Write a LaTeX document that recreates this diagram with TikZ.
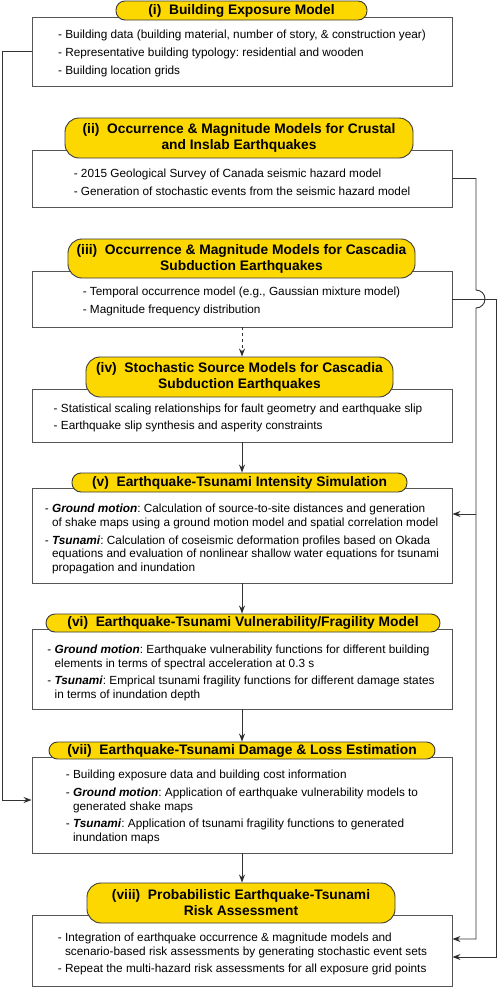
\documentclass[tikz,border=0pt]{standalone}
\usepackage{fontspec}
\setmainfont{Liberation Sans}
\usetikzlibrary{arrows.meta,calc}
\definecolor{pillY}{HTML}{FDD800}
\definecolor{pillline}{HTML}{3A3A3A}
\definecolor{boxgray}{HTML}{555555}
\definecolor{linegray}{HTML}{333333}
\begin{document}
\frenchspacing
\begin{tikzpicture}[x=1pt,y=-1pt,
 boxst/.style={draw=boxgray, line width=0.9pt, fill=white, rectangle, inner sep=0, minimum width=420pt},
 pill/.style={draw=pillline, line width=0.9pt, fill=pillY, inner sep=0, align=center, font=\fontsize{13.8}{16}\selectfont\bfseries},
 body/.style={align=left, inner sep=0, font=\fontsize{11.8}{13.6}\selectfont},
 conn/.style={draw=linegray, line width=0.9pt},
 arr/.style={conn, -{Stealth[length=8pt,width=6pt,fill=black]}}]
\useasboundingbox (0,0) rectangle (498,988);
\fill[white] (0,0) rectangle (498,988);
% boxes
\node[boxst, minimum height=69pt] (b1) at (242,51.5) {};
\node[boxst, minimum height=57pt] (b2) at (242,178.5) {};
\node[boxst, minimum height=56pt] (b3) at (242,299) {};
\node[boxst, minimum height=53pt] (b4) at (242,415.5) {};
\node[boxst, minimum height=95pt] (b5) at (242,535.5) {};
\node[boxst, minimum height=80pt] (b6) at (242,669) {};
\node[boxst, minimum height=96pt] (b7) at (242,805) {};
\node[boxst, minimum height=71pt] (b8) at (242,950.5) {};
% pills
\node[pill, minimum width=251pt, minimum height=19pt, rounded corners=9pt] (p1) at (241.5,10.5) {(i)\ \ Building Exposure Model};
\node[pill, minimum width=348pt, minimum height=40pt, rounded corners=14pt] (p2) at (239,138) {(ii)\ \ Occurrence \& Magnitude Models for Crustal\\and Inslab Earthquakes};
\node[pill, minimum width=347pt, minimum height=39pt, rounded corners=14pt] (p3) at (241.5,258.5) {(iii)\ \ Occurrence \& Magnitude Models for Cascadia\\Subduction Earthquakes};
\node[pill, minimum width=307pt, minimum height=40pt, rounded corners=14pt] (p4) at (239.5,377) {(iv)\ \ Stochastic Source Models for Cascadia\\Subduction Earthquakes};
\node[pill, minimum width=335pt, minimum height=19pt, rounded corners=9pt] (p5) at (239.5,482.5) {(v)\ \ Earthquake-Tsunami Intensity Simulation};
\node[pill, minimum width=394pt, minimum height=18pt, rounded corners=9pt] (p6) at (243,623) {(vi)\ \ Earthquake-Tsunami Vulnerability/Fragility Model};
\node[pill, minimum width=386pt, minimum height=17pt, rounded corners=8.5pt] (p7) at (242,750.5) {(vii)\ \ Earthquake-Tsunami Damage \& Loss Estimation};
\node[pill, minimum width=308pt, minimum height=40pt, rounded corners=14pt] (p8) at (241,903) {(viii)\ \ Probabilistic Earthquake-Tsunami\\Risk Assessment};
% texts
\node[body] (t1) at (242,53.5) {- Building data (building material, number of story, \& construction year)\\[4pt]- Representative building typology: residential and wooden\\[4pt]- Building location grids};
\node[body] (t2) at (242,182.5) {- 2015 Geological Survey of Canada seismic hazard model\\[4pt]- Generation of stochastic events from the seismic hazard model};
\node[body] (t3) at (241.5,301.5) {- Temporal occurrence model (e.g., Gaussian mixture model)\\[4pt]- Magnitude frequency distribution};
\node[body] (t4) at (238,418) {- Statistical scaling relationships for fault geometry and earthquake slip\\[4pt]- Earthquake slip synthesis and asperity constraints};
\node[body] (t5) at (242,539) {- \textbf{\textit{Ground motion}}: Calculation of source-to-site distances and generation\\\phantom{- }of shake maps using a ground motion model and spatial correlation model\\[4pt]- \textbf{\textit{Tsunami}}: Calculation of coseismic deformation profiles based on Okada\\\phantom{- }equations and evaluation of nonlinear shallow water equations for tsunami\\\phantom{- }propagation and inundation};
\node[body] (t6) at (241,673) {- \textbf{\textit{Ground motion}}: Earthquake vulnerability functions for different building\\\phantom{- }elements in terms of spectral acceleration at 0.3 s\\[4pt]- \textbf{\textit{Tsunami}}: Emprical tsunami fragility functions for different damage states\\\phantom{- }in terms of inundation depth};
\node[body] (t7) at (242,807) {- Building exposure data and building cost information\\[4pt]- \textbf{\textit{Ground motion}}: Application of earthquake vulnerability models to\\\phantom{- }generated shake maps\\[4pt]- \textbf{\textit{Tsunami}}: Application of tsunami fragility functions to generated\\\phantom{- }inundation maps};
\node[body] (t8) at (242.5,954) {- Integration of earthquake occurrence \& magnitude models and\\\phantom{- }scenario-based risk assessments by generating stochastic event sets\\[4pt]- Repeat the multi-hazard risk assessments for all exposure grid points};
% vertical arrows
\draw[arr, dashed] (b3.south) -- (p4.north -| b3.south);
\draw[arr] (b4.south) -- (p5.north -| b4.south);
\draw[arr] (b5.south) -- (p6.north -| b5.south);
\draw[arr] (b6.south) -- (p7.north -| b6.south);
\draw[arr] (b7.south) -- (p8.north -| b7.south);
% left loop
\draw[arr] (b1.west) -- ++(-29,0) |- ([yshift=5pt]b7.west);
% right loops
\coordinate (r2) at (476,178.5);
\coordinate (j5) at (476,514);
\draw[arr] (b2.east) -- (r2) -- (476,290) arc[start angle=90, end angle=-90, radius=9pt] -- (476,939) -- ([yshift=11.5pt]b8.east);
\draw[arr] (j5) -- (j5 -| b5.east);
\draw[arr] (b3.east) -- (496,299) -- (496,957) -- ([yshift=-6.5pt]b8.east);
\end{tikzpicture}
\end{document}
